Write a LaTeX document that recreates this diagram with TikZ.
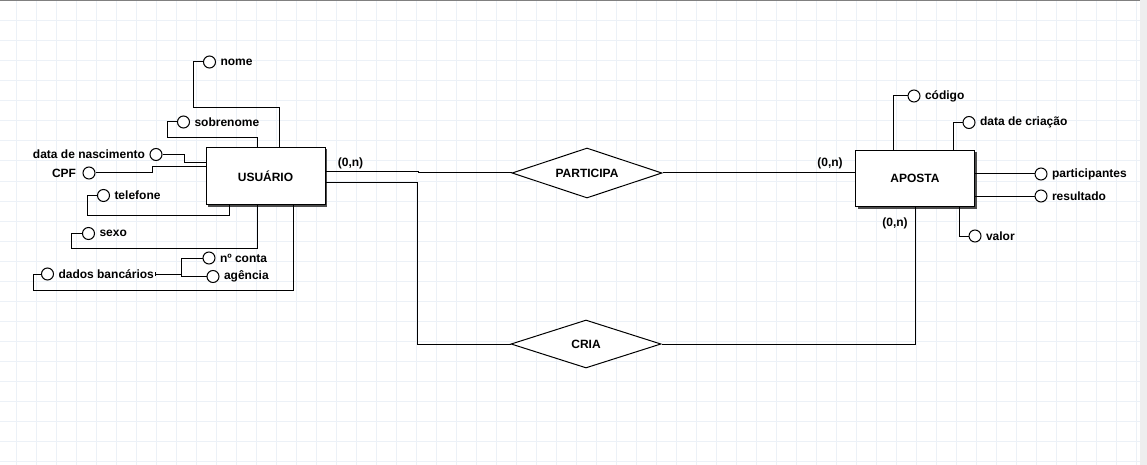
\documentclass[tikz,border=0pt]{standalone}
\usepackage{fontspec}
\setmainfont{Liberation Sans}
\usetikzlibrary{positioning,shapes.geometric,shadows,arrows.meta}
\definecolor{gridc}{RGB}{236,241,247}
\definecolor{stripc}{RGB}{238,238,238}
\tikzset{
  entidade/.style={draw, fill=white, line width=1pt, minimum width=119pt, minimum height=57pt, inner sep=0pt,
    drop shadow={shadow xshift=2pt, shadow yshift=-2pt, fill=black!70, opacity=1}},
  relac/.style={draw, diamond, aspect=3, fill=white, minimum width=150pt, minimum height=50pt, inner sep=0pt},
  atrib/.style={draw, circle, fill=white, minimum size=12pt, inner sep=0pt},
  rotulo/.style={inner sep=1pt},
}
\begin{document}
\begin{tikzpicture}[x=1pt, y=-1pt, line width=1pt,
    font=\fontsize{12}{14}\selectfont\bfseries]
\useasboundingbox (0,0) rectangle (1147,465);

% fundo quadriculado
\fill[stripc] (1140,0) rectangle (1147,465);
\foreach \gx in {16,36,...,1136} \draw[gridc] (\gx,0) -- (\gx,465);
\foreach \gy in {1,21,...,461} \draw[gridc] (0,\gy) -- (1140,\gy);
\draw[black!50, line width=1.5pt] (0,0.75) -- (1140,0.75);

% entidades e relacionamentos
\node[entidade] (usuario) at (265.5,176) {USUÁRIO};
\node[entidade, minimum height=56pt] (aposta) at (915,178.5) {APOSTA};
\node[relac] (participa) at (587,173) {PARTICIPA};
\node[relac, minimum height=48pt] (cria) at (586,344) {CRIA};

% atributos de USUARIO
\node[atrib] (nome) at (209.5,62) {};
\node[rotulo, right=3pt of nome] (nomet) {nome};
\node[atrib] (sobrenome) at (183.5,122) {};
\node[rotulo, right=3pt of sobrenome] (sobrenomet) {sobrenome};
\node[atrib] (nasc) at (156,154.5) {};
\node[rotulo, left=3pt of nasc] (nasct) {data de nascimento};
\node[atrib] (cpf) at (89,173) {};
\node[rotulo, left=5pt of cpf] (cpft) {CPF};
\node[atrib] (telefone) at (103.5,195.5) {};
\node[rotulo, right=3pt of telefone] (telefonet) {telefone};
\node[atrib] (sexo) at (88.5,233.5) {};
\node[rotulo, right=3pt of sexo] (sexot) {sexo};
\node[atrib] (dados) at (47.5,274) {};
\node[rotulo, right=3pt of dados] (dadost) {dados bancários};
\node[atrib] (nconta) at (209,258) {};
\node[rotulo, right=3pt of nconta] (ncontat) {nº conta};
\node[atrib] (agencia) at (213,276.5) {};
\node[rotulo, right=3pt of agencia] (agenciat) {agência};

% atributos de APOSTA
\node[atrib] (codigo) at (914,96) {};
\node[rotulo, right=3pt of codigo] (codigot) {código};
\node[atrib] (criacao) at (969,122.5) {};
\node[rotulo, right=3pt of criacao] (criacaot) {data de criação};
\node[atrib] (participantes) at (1041,174) {};
\node[rotulo, right=3pt of participantes] (participantest) {participantes};
\node[atrib] (resultado) at (1041,196) {};
\node[rotulo, right=3pt of resultado] (resultadot) {resultado};
\node[atrib] (valor) at (975,236) {};
\node[rotulo, right=3pt of valor] (valort) {valor};

% cardinalidades
\node[rotulo] (card1) at (350.5,163) {(0,n)};
\node[rotulo] (card2) at (830,163) {(0,n)};
\node[rotulo] (card3) at (895,223) {(0,n)};

% ligacoes USUARIO
\draw (nome.west) -| (193,108) -| ([xshift=13.5pt]usuario.north);
\draw (sobrenome.west) -| (167,138) -| ([xshift=-8.5pt]usuario.north);
\draw (nasc.east) -| (184,163) -- ([yshift=13pt]usuario.west);
\draw (cpf.east) -| (152,167) -- ([yshift=9pt]usuario.west);
\draw (telefone.west) -| (87,215) -| ([xshift=-36.5pt]usuario.south);
\draw (sexo.west) -| (71,248) -| ([xshift=-8.5pt]usuario.south);
\draw (dados.west) -| (33,290) -| ([xshift=27.5pt]usuario.south);
\draw[{Bar[width=4pt]}-] (dadost.east) -- (181,274) |- (nconta.west);
\draw (181,274) |- (agencia.west);

% ligacoes APOSTA
\draw (codigo.west) -| ([xshift=-21.5pt]aposta.north);
\draw (criacao.west) -| ([xshift=38.5pt]aposta.north);
\draw (participantes.west) -- (participantes.west -| aposta.east);
\draw (resultado.west) -- (resultado.west -| aposta.east);
\draw (valor.west) -| ([xshift=44.5pt]aposta.south);

% relacionamentos
\draw ([yshift=4pt]usuario.east) -- (418,172) |- (participa.west);
\draw (participa.east) -- (participa.east -| aposta.west);
\draw ([yshift=-6.5pt]usuario.east) -| (417,344) -- (cria.west);
\draw (cria.east) -| (aposta.south);
\end{tikzpicture}
\end{document}
